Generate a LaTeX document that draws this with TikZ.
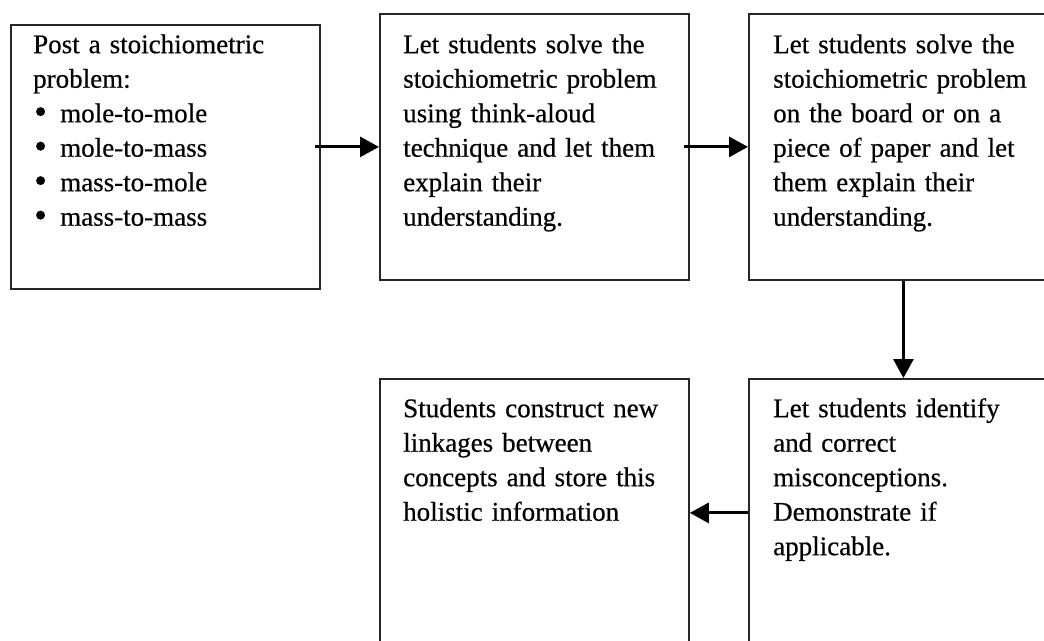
\documentclass[tikz,border=0pt]{standalone}
\usepackage{fontspec}
\setmainfont{Liberation Serif}[FakeBold=0.5]
\usetikzlibrary{arrows.meta}
\tikzset{
  box/.style={draw=black!85, line width=1.8pt, rectangle, anchor=north west, inner sep=0pt, minimum width=309pt},
  txt/.style={anchor=north west, inner sep=0pt, align=left, text width=290pt, font=\fontsize{27}{34.5}\selectfont},
  flow/.style={line width=3pt, -{Triangle[length=19pt,width=20pt]}}
}
\newcommand{\firstln}{\rule{0pt}{30pt}}
\newcommand{\bitem}[1]{\makebox[27pt][l]{\hspace{1pt}\raisebox{-1.5pt}{\scalebox{1.35}{•}}}#1}
\begin{document}
\begin{tikzpicture}[x=1pt,y=-1pt]
\clip (0,0) rectangle (1044,640);
\useasboundingbox (0,0) rectangle (1044,640);
\node[box, minimum height=264pt] (b1) at (10,24) {};
\node[box, minimum height=266pt] (b2) at (379,13) {};
\node[box, minimum height=266pt] (b3) at (748,13) {};
\node[box, minimum height=268pt] (b4) at (748,378) {};
\node[box, minimum height=268pt] (b5) at (379,378) {};
\node[txt] (t1) at ([shift={(23,-1)}]b1.north west) {\firstln Post a stoichiometric\\problem:\\\bitem{mole-to-mole}\\\bitem{mole-to-mass}\\\bitem{mass-to-mole}\\\bitem{mass-to-mass}};
\node[txt] (t2) at ([shift={(24,10)}]b2.north west) {\firstln Let students solve the\\stoichiometric problem\\using think-aloud\\technique and let them\\explain their\\understanding.};
\node[txt] (t3) at ([shift={(25,10)}]b3.north west) {\firstln Let students solve the\\stoichiometric problem\\on the board or on a\\piece of paper and let\\them explain their\\understanding.};
\node[txt] (t4) at ([shift={(25,9)}]b4.north west) {\firstln Let students identify\\and correct\\misconceptions.\\Demonstrate if\\applicable.};
\node[txt] (t5) at ([shift={(24,9)}]b5.north west) {\firstln Students construct new\\linkages between\\concepts and store this\\holistic information};
\draw[flow] ([xshift=-6pt]b1.east |- b2.west) -- (b2.west);
\draw[flow] ([xshift=-6pt]b2.east) -- (b3.west);
\draw[flow] (b3.south) -- (b4.north);
\draw[flow] (b4.west) -- (b5.east);
\end{tikzpicture}
\end{document}
